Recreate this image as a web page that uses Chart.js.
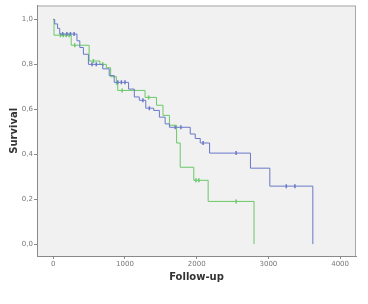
<!DOCTYPE html>
<html>
<head>
<meta charset="utf-8">
<script src="https://cdn.jsdelivr.net/npm/chart.js@4"></script>
<style>
  html, body { margin: 0; padding: 0; background: #ffffff; }
  #wrap { width: 368px; height: 304px; }
</style>
</head>
<body>
<div id="wrap"><canvas id="chart" width="368" height="304"></canvas></div>
<script>
// ── Data ─────────────────────────────────────
// blue group: step points (time, survival)
const blueTime = [0, 20, 60, 90, 330, 370, 420, 490, 690, 780, 850, 1050, 1130, 1200, 1290, 1400, 1480, 1560, 1620, 1910, 1980, 2050, 2180, 2750, 3020, 3620];
const blueSurv = [1.0, 0.98, 0.96, 0.935, 0.905, 0.875, 0.845, 0.80, 0.78, 0.75, 0.72, 0.69, 0.655, 0.64, 0.605, 0.595, 0.565, 0.535, 0.52, 0.49, 0.47, 0.45, 0.405, 0.338, 0.258, 0.0];
// blue censored cases
const blueCensTime = [130, 190, 240, 290, 540, 600, 900, 950, 1000, 1250, 1340, 1700, 1780, 2090, 2550, 3250, 3370];
const blueCensSurv = [0.935, 0.935, 0.935, 0.935, 0.80, 0.80, 0.72, 0.72, 0.72, 0.64, 0.605, 0.52, 0.52, 0.45, 0.405, 0.258, 0.258];

// green group
const greenTime = [0, 10, 250, 500, 650, 740, 800, 880, 900, 1280, 1440, 1530, 1620, 1720, 1770, 1960, 2160, 2800];
const greenSurv = [1.0, 0.93, 0.885, 0.815, 0.80, 0.785, 0.745, 0.71, 0.684, 0.653, 0.618, 0.573, 0.529, 0.45, 0.342, 0.284, 0.19, 0.0];
const greenCensTime = [100, 140, 180, 220, 300, 560, 690, 960, 1330, 1990, 2030, 2550];
const greenCensSurv = [0.93, 0.93, 0.93, 0.93, 0.885, 0.815, 0.80, 0.684, 0.653, 0.284, 0.284, 0.19];

const xTicks = [0, 1000, 2000, 3000, 4000];
const yTicks = [0.0, 0.2, 0.4, 0.6, 0.8, 1.0];

const BLUE = "rgb(105,120,200)";
const GREEN = "rgb(105,200,105)";

function toPoints(xs, ys) {
    return xs.map((x, i) => ({ x: x, y: ys[i] }));
}

// ── Plot frame + background ───────────────────
const framePlugin = {
    id: 'frame',
    beforeDraw(chart) {
        const a = chart.chartArea;
        const c = chart.ctx;
        c.save();
        c.fillStyle = "#f1f1f1";
        c.fillRect(a.left, a.top, a.right - a.left, a.bottom - a.top);
        c.strokeStyle = "#a8a8a8";
        c.lineWidth = 1;
        c.strokeRect(a.left + 0.5, a.top + 0.5, a.right - a.left - 1, a.bottom - a.top);
        c.restore();
    }
};

const ctx = document.getElementById('chart').getContext('2d');

new Chart(ctx, {
    type: 'line',
    data: {
        datasets: [
            {
                label: 'blue',
                data: toPoints(blueTime, blueSurv),
                stepped: true,
                borderColor: BLUE,
                borderWidth: 1,
                pointRadius: 0,
                fill: false
            },
            {
                label: 'green',
                data: toPoints(greenTime, greenSurv),
                stepped: true,
                borderColor: GREEN,
                borderWidth: 1,
                pointRadius: 0,
                fill: false
            },
            {
                label: 'blue censored',
                data: toPoints(blueCensTime, blueCensSurv),
                showLine: false,
                pointStyle: 'line',
                rotation: 90,
                pointRadius: 2,
                borderColor: BLUE,
                pointBorderWidth: 1.5
            },
            {
                label: 'green censored',
                data: toPoints(greenCensTime, greenCensSurv),
                showLine: false,
                pointStyle: 'line',
                rotation: 90,
                pointRadius: 2,
                borderColor: GREEN,
                pointBorderWidth: 1.5
            }
        ]
    },
    options: {
        responsive: false,
        animation: false,
        layout: { padding: { left: 0, right: 12, top: 5, bottom: 0 } },
        plugins: {
            legend: { display: false },
            tooltip: { enabled: false }
        },
        scales: {
            x: {
                type: 'linear',
                min: -227,
                max: 4222,
                afterBuildTicks: s => { s.ticks = xTicks.map(v => ({ value: v })); },
                afterFit: s => { s.height = 48; },
                grid: { drawOnChartArea: false, tickLength: 3, color: "#888" },
                border: { color: "#8a8a8a" },
                ticks: {
                    color: "#777",
                    padding: 1,
                    maxRotation: 0,
                    font: { family: "DejaVu Sans", size: 7 },
                    callback: v => String(v)
                },
                title: {
                    display: true,
                    text: 'Follow-up',
                    color: "#333",
                    font: { family: "DejaVu Sans", size: 10, weight: 'bold' },
                    padding: { top: 0, bottom: 21 }
                }
            },
            y: {
                type: 'linear',
                min: -0.053,
                max: 1.062,
                afterBuildTicks: s => { s.ticks = yTicks.map(v => ({ value: v })); },
                afterFit: s => { s.width = 37; },
                grid: { drawOnChartArea: false, tickLength: 3, color: "#888" },
                border: { color: "#8a8a8a" },
                ticks: {
                    color: "#777",
                    padding: 1,
                    font: { family: "DejaVu Sans", size: 7 },
                    callback: v => v.toFixed(1).replace('.', ',')
                },
                title: {
                    display: true,
                    text: 'Survival',
                    color: "#333",
                    font: { family: "DejaVu Sans", size: 10, weight: 'bold' },
                    padding: { top: 8, bottom: 0 }
                }
            }
        }
    },
    plugins: [framePlugin]
});
</script>
</body>
</html>
